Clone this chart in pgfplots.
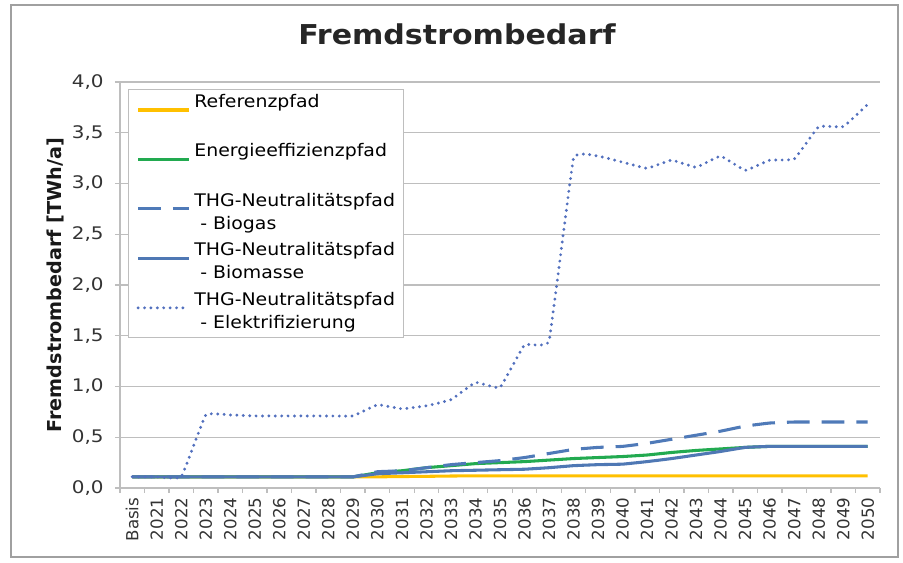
\documentclass[border=0pt]{standalone}
\usepackage{fontspec}
\setmainfont{DejaVu Sans}
\newfontfamily\widefont{DejaVu Sans}[FakeStretch=1.09]
\newfontfamily\titlefont{DejaVu Sans}[FakeStretch=1.1]
\newfontfamily\tickfont{DejaVu Sans}[FakeStretch=1.15]
\usepackage{pgfplots}
\usepackage{pgfplotstable}
\pgfplotsset{compat=1.18}
\definecolor{refc}{RGB}{255,192,0}
\definecolor{effc}{RGB}{34,170,80}
\definecolor{bgasc}{RGB}{79,122,184}
\definecolor{bmasc}{RGB}{79,120,180}
\definecolor{elekc}{RGB}{82,112,190}
\definecolor{gridc}{RGB}{190,190,190}
\definecolor{framec}{RGB}{160,160,160}

\pgfplotstableread{
x ref eff bgas bmas elek
0 0.11 0.11 0.11 0.11 0.11
1 0.11 0.11 0.11 0.11 0.11
2 0.11 0.11 0.11 0.11 0.11
3 0.11 0.11 0.11 0.11 0.72
4 0.11 0.11 0.11 0.11 0.72
5 0.11 0.11 0.11 0.11 0.71
6 0.11 0.11 0.11 0.11 0.71
7 0.11 0.11 0.11 0.11 0.71
8 0.11 0.11 0.11 0.11 0.71
9 0.11 0.11 0.11 0.11 0.71
10 0.11 0.15 0.16 0.14 0.82
11 0.113 0.17 0.17 0.15 0.78
12 0.115 0.20 0.20 0.16 0.81
13 0.118 0.22 0.23 0.17 0.87
14 0.12 0.24 0.25 0.175 1.04
15 0.12 0.25 0.27 0.18 0.99
16 0.12 0.26 0.30 0.185 1.41
17 0.12 0.275 0.34 0.20 1.45
18 0.12 0.29 0.38 0.22 3.25
19 0.12 0.30 0.40 0.23 3.27
20 0.12 0.31 0.41 0.235 3.21
21 0.12 0.325 0.44 0.26 3.15
22 0.12 0.35 0.48 0.29 3.23
23 0.12 0.37 0.52 0.325 3.16
24 0.12 0.385 0.56 0.36 3.27
25 0.12 0.40 0.61 0.40 3.13
26 0.12 0.41 0.64 0.41 3.23
27 0.12 0.41 0.65 0.41 3.24
28 0.12 0.41 0.65 0.41 3.56
29 0.12 0.41 0.65 0.41 3.56
30 0.12 0.41 0.65 0.41 3.78
}\data

\begin{document}
\begin{tikzpicture}
\begin{axis}[
  at={(0,0)}, anchor=south west,
  scale only axis, width=570pt, height=304.5pt,
  xmin=-0.5, xmax=30.5, ymin=0, ymax=4,
  axis x line*=bottom, axis y line*=left,
  axis line style={-, draw=gridc, line width=1.1pt},
  xtick={0,...,30},
  xticklabels={Basis,2021,2022,2023,2024,2025,2026,2027,2028,2029,2030,2031,2032,2033,2034,2035,2036,2037,2038,2039,2040,2041,2042,2043,2044,2045,2046,2047,2048,2049,2050},
  major x tick style={draw=none},
  minor xtick={-0.5,0.5,...,30.5},
  minor x tick style={draw=gridc, line width=1pt},
  tick align=outside,
  major tick length=3.75pt, minor tick length=3.75pt,
  ytick={0,0.5,...,4},
  major y tick style={draw=gridc, line width=1pt},
  yticklabel={\pgfmathprintnumber[fixed,fixed zerofill,precision=1,use comma,assume math mode=true]{\tick}},
  ymajorgrids, grid style={draw=gridc, line width=1.1pt},
  xticklabel style={rotate=90, anchor=east, font=\fontsize{12.5}{15}\selectfont, text=black!80},
  yticklabel style={font=\tickfont\fontsize{13}{15}\selectfont, text=black!80, xshift=-5pt},
  ylabel={Fremdstrombedarf [TWh/a]},
  ylabel style={at={(axis description cs:-0.0855,0.5)}, anchor=center, font=\bfseries\fontsize{14.4}{17}\selectfont, text=black!90},
  title={Fremdstrombedarf},
  title style={at={(axis description cs:0.4434,1.0985)}, anchor=center, font=\titlefont\bfseries\fontsize{20.5}{24}\selectfont, text=black!85},
  legend cell align=left,
  legend style={at={(0,1)}, anchor=north west, xshift=6pt, yshift=-5.25pt,
    draw=gridc, line width=0.8pt, fill=white,
    font=\widefont\fontsize{13}{17.25}\selectfont,
    inner xsep=6pt, inner ysep=1.4pt, row sep=2.6pt, column sep=3pt,
    nodes={inner sep=0pt, align=left, text depth={}}},
  legend image code/.code={\draw[#1] (0pt,0.33em) -- (38pt,0.33em);},
  every axis plot/.append style={smooth, tension=0.15},
]
\addplot[refc, line width=2.3pt] table[x=x,y=ref]{\data};
\addlegendentry{\strut Referenzpfad\\\strut}
\addplot[effc, line width=2.3pt] table[x=x,y=eff]{\data};
\addlegendentry{\strut Energieeffizienzpfad\\\strut}
\addplot[bgasc, line width=2.3pt, dash pattern=on 17pt off 9pt] table[x=x,y=bgas]{\data};
\addlegendentry{\strut THG-Neutralitätspfad\\\strut\ - Biogas}
\addplot[bmasc, line width=2.3pt] table[x=x,y=bmas]{\data};
\addlegendentry{\strut THG-Neutralitätspfad\\\strut\ - Biomasse}
\addplot[elekc, line width=2.4pt, line cap=round, dash pattern=on 0pt off 4.8pt] table[x=x,y=elek]{\data};
\addlegendentry{\strut THG-Neutralitätspfad\\\strut\ - Elektrifizierung}
\end{axis}
\draw[framec, line width=1.5pt] (-81.75pt,-51.75pt) rectangle (583.5pt,362.25pt);
\pgfresetboundingbox
\path[use as bounding box] (-90pt,-56.25pt) rectangle (587.25pt,366pt);
\end{tikzpicture}
\end{document}
